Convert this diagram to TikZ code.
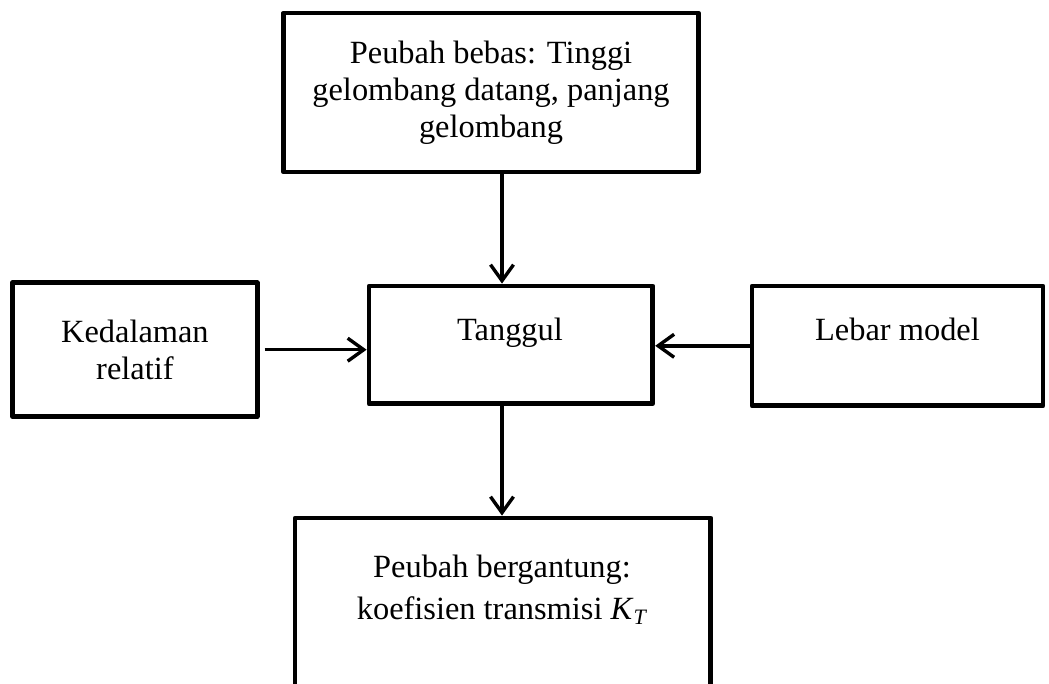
\documentclass[tikz,border=0pt]{standalone}
\usepackage{fontspec}
\setmainfont{Liberation Serif}
\usetikzlibrary{arrows.meta}
\begin{document}
\begin{tikzpicture}[x=0.5pt,y=-0.5pt,
  box/.style={draw,line width=2.4pt,line join=round,inner sep=0pt},
  lbl/.style={font=\fontsize{16.2}{18.6}\selectfont,align=center,inner sep=0pt},
  arr/.style={line width=1.7pt,-{Straight Barb[length=8pt,width=11.5pt,line width=1.7pt]}}]
\clip (0,0) rectangle (1049,684);
% boxes
\node[box,lbl,minimum width=207.5pt,minimum height=79.5pt] (top) at (491,92.5)
  {Peubah bebas: Tinggi\\gelombang datang, panjang\\gelombang};
\node[box,lbl,minimum width=122.2pt,minimum height=67pt] (kd) at (134.9,349.7)
  {Kedalaman\\relatif};
\node[box,minimum width=141.9pt,minimum height=58.8pt] (tang) at (510.9,344.8) {};
\node[box,minimum width=145.5pt,minimum height=59.8pt] (lm) at (897.5,345.8) {};
\node[box,minimum width=207.8pt,minimum height=120pt] (dep) at (502.8,638) {};
% texts
\node[lbl,anchor=base] (tt) at (510,340) {Tanggul};
\node[lbl,anchor=base] (lt) at (897.5,340.7) {Lebar model};
\node[lbl,anchor=north] (dt) at (502,555)
  {Peubah bergantung:\\[2pt]koefisien transmisi \textit{K}\raisebox{-0.35ex}{\fontsize{11}{11}\selectfont\textit{T}}};
% connectors
\coordinate (vx) at (502,0);
\draw[arr] (top.south -| vx) -- (tang.north -| vx);
\draw[arr,shorten <=2.5pt] (kd.east) -- (tang.west |- kd.east);
\draw[arr] (lm.west) -- (tang.east |- lm.west);
\draw[arr] (tang.south -| vx) -- (dep.north -| vx);
\end{tikzpicture}
\end{document}
